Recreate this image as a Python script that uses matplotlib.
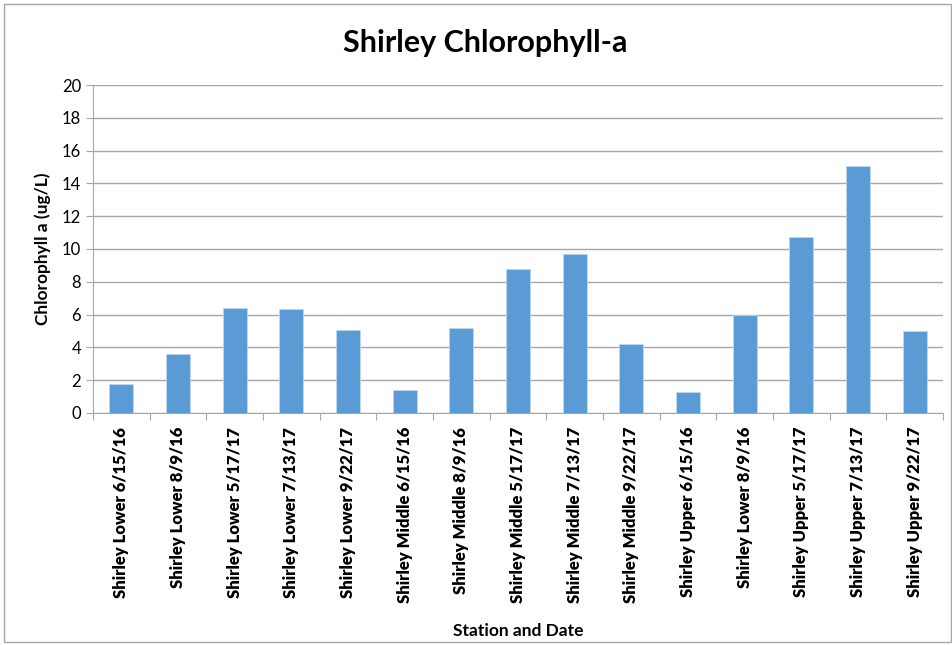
import matplotlib
matplotlib.use("Agg")
import matplotlib.pyplot as plt
from matplotlib.patches import Rectangle

labels = [
    "Shirley Lower 6/15/16", "Shirley Lower 8/9/16", "Shirley Lower 5/17/17",
    "Shirley Lower 7/13/17", "Shirley Lower 9/22/17", "Shirley Middle 6/15/16",
    "Shirley Middle 8/9/16", "Shirley Middle 5/17/17", "Shirley Middle 7/13/17",
    "Shirley Middle 9/22/17", "Shirley Upper 6/15/16", "Shirley Lower 8/9/16",
    "Shirley Upper 5/17/17", "Shirley Upper 7/13/17", "Shirley Upper 9/22/17",
]
chl_a = [1.75, 3.57, 6.38, 6.32, 5.06, 1.37, 5.18, 8.79, 9.68, 4.18,
         1.28, 5.97, 10.74, 15.05, 4.97]
y_ticks = [0, 2, 4, 6, 8, 10, 12, 14, 16, 18, 20]

plt.rcParams["font.family"] = ["Lato", "DejaVu Sans"]

fig = plt.figure(figsize=(9.52, 6.45), dpi=100)
ax = fig.add_axes([0.0977, 0.360, 0.8928, 0.508])

x = range(len(labels))
ax.bar(x, chl_a, width=0.42, color="#5b9bd5", edgecolor="#bdd7ee",
       linewidth=0.6, zorder=3)

ax.set_xlim(-0.5, len(labels) - 0.5)
ax.set_ylim(0, 20)
ax.set_yticks(y_ticks)
ax.set_yticklabels([str(t) for t in y_ticks], fontsize=12)
ax.yaxis.grid(True, color="#a6a6a6", linewidth=1.0, zorder=0)
ax.tick_params(axis="y", length=5, color="#a6a6a6", direction="out")

# category boundaries get the tick marks, names sit in between
ax.set_xticks([i - 0.5 for i in range(len(labels) + 1)], minor=False)
ax.set_xticklabels([])
ax.set_xticks(list(x), minor=True)
ax.set_xticklabels(labels, minor=True, rotation=90, fontsize=12,
                   fontweight="heavy")
ax.tick_params(axis="x", which="major", length=5, color="#a6a6a6")
ax.tick_params(axis="x", which="minor", length=0, pad=10)

for side in ["top", "right"]:
    ax.spines[side].set_visible(False)
ax.spines["left"].set_color("#a6a6a6")
ax.spines["bottom"].set_color("#a6a6a6")

ax.set_ylabel("Chlorophyll a (ug/L)", fontsize=12.5, fontweight="bold",
              labelpad=8)
ax.set_xlabel("Station and Date", fontsize=12.5, fontweight="bold", labelpad=14)
fig.suptitle("Shirley Chlorophyll-a", fontsize=22, fontweight="bold",
             x=0.51, y=0.955)

fig.patches.append(Rectangle((0.004, 0.004), 0.995, 0.99,
                             transform=fig.transFigure, fill=False,
                             edgecolor="#a6a6a6", linewidth=1.0))

fig.savefig("out.png", dpi=100)
